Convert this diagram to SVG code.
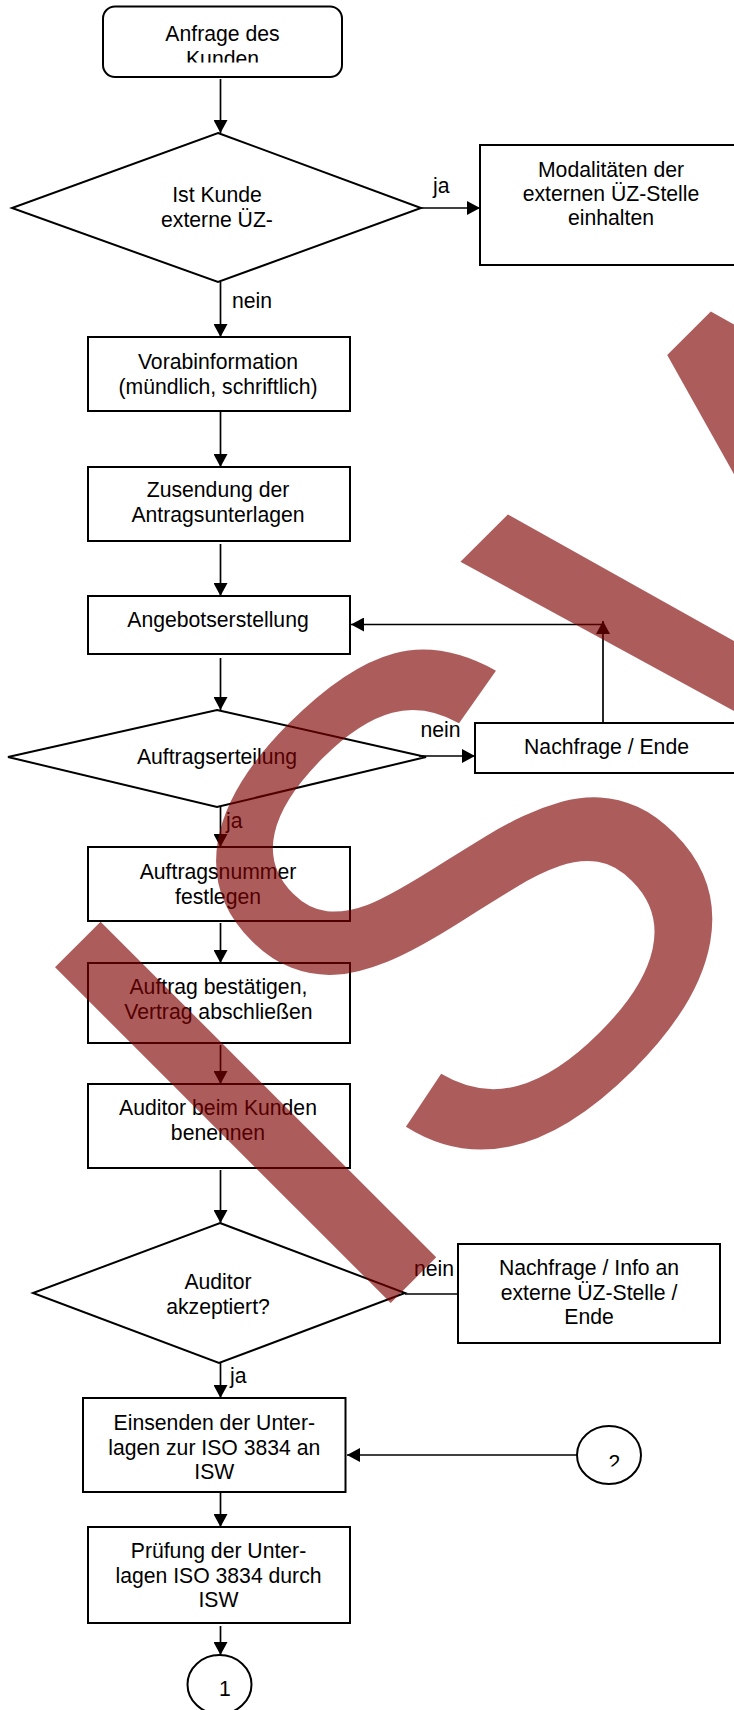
<svg xmlns="http://www.w3.org/2000/svg" width="734" height="1710" viewBox="0 0 734 1710">
<style>
.box{fill:#fff;stroke:#000;stroke-width:2}
.t{font-family:"Liberation Sans",Arial,sans-serif;font-size:21.2px;fill:#000;text-anchor:middle}
.l{font-family:"Liberation Sans",Arial,sans-serif;font-size:21.2px;fill:#000}
.c{fill:none;stroke:#000;stroke-width:1.7}
.wm{font-family:"Liberation Sans",Arial,sans-serif;font-size:690px;fill:#7f0000;fill-opacity:0.64}
</style>
<defs>
<marker id="ah" markerUnits="userSpaceOnUse" markerWidth="14" markerHeight="14" refX="13" refY="7" orient="auto">
<path d="M0,0 L13,7 L0,14 z" fill="#000"/>
</marker>
<clipPath id="clipStart"><rect x="100" y="0" width="250" height="62.5"/></clipPath>
<clipPath id="clipC2"><rect x="570" y="1420" width="80" height="46.5"/></clipPath>
</defs>
<rect width="734" height="1710" fill="#fff"/>

<g id="start">
<rect class="box" x="103" y="6.5" width="239" height="70.5" rx="12"/>
<g clip-path="url(#clipStart)">
<text class="t" x="222.5" y="40.7">Anfrage des</text>
<text class="t" x="222.5" y="65.7">Kunden</text>
</g>
</g>

<g id="d1">
<polygon class="box" points="218,133 421,208 218,282 12,208"/>
<text class="t" x="217" y="202.3">Ist Kunde</text>
<text class="t" x="217" y="227">externe ÜZ-</text>
</g>

<g id="modal">
<rect class="box" x="480" y="145" width="262" height="120"/>
<text class="t" x="611" y="177">Modalitäten der</text>
<text class="t" x="611" y="201">externen ÜZ-Stelle</text>
<text class="t" x="611" y="225">einhalten</text>
</g>

<g id="vorab">
<rect class="box" x="88" y="337" width="262" height="74"/>
<text class="t" x="218" y="369.3">Vorabinformation</text>
<text class="t" x="218" y="393.8">(mündlich, schriftlich)</text>
</g>

<g id="zusendung">
<rect class="box" x="88" y="467" width="262" height="74"/>
<text class="t" x="218" y="497.3">Zusendung der</text>
<text class="t" x="218" y="522">Antragsunterlagen</text>
</g>

<g id="angebot">
<rect class="box" x="88" y="596" width="262" height="58"/>
<text class="t" x="218" y="627">Angebotserstellung</text>
</g>

<g id="d2">
<polygon class="box" points="217,710 426,757 217,807 8,757"/>
<text class="t" x="217" y="764">Auftragserteilung</text>
</g>

<g id="nachfrage1">
<rect class="box" x="475" y="723" width="262" height="50"/>
<text class="t" x="606.5" y="754">Nachfrage / Ende</text>
</g>

<g id="auftragsnummer">
<rect class="box" x="88" y="847" width="262" height="74"/>
<text class="t" x="218" y="879">Auftragsnummer</text>
<text class="t" x="218" y="903.5">festlegen</text>
</g>

<g id="bestaetigen">
<rect class="box" x="88" y="963" width="262" height="80"/>
<text class="t" x="218.4" y="994">Auftrag bestätigen,</text>
<text class="t" x="218.4" y="1018.5">Vertrag abschließen</text>
</g>

<g id="auditor">
<rect class="box" x="88" y="1084" width="262" height="84"/>
<text class="t" x="218" y="1115">Auditor beim Kunden</text>
<text class="t" x="218" y="1139.5">benennen</text>
</g>

<g id="d3">
<polygon class="box" points="220,1223 405,1293 219,1363 33,1293"/>
<text class="t" x="218" y="1289.3">Auditor</text>
<text class="t" x="218" y="1313.8">akzeptiert?</text>
</g>

<g id="nachfrage2">
<rect class="box" x="458" y="1244" width="262" height="99"/>
<text class="t" x="589" y="1275">Nachfrage / Info an</text>
<text class="t" x="589" y="1299.5">externe ÜZ-Stelle /</text>
<text class="t" x="589" y="1324">Ende</text>
</g>

<g id="einsenden">
<rect class="box" x="83" y="1398" width="262.5" height="94"/>
<text class="t" x="214.3" y="1430">Einsenden der Unter-</text>
<text class="t" x="214.3" y="1454.5">lagen zur ISO 3834 an</text>
<text class="t" x="214.3" y="1479">ISW</text>
</g>

<g id="pruefung">
<rect class="box" x="88" y="1527" width="262" height="96"/>
<text class="t" x="218.5" y="1558.3">Prüfung der Unter-</text>
<text class="t" x="218.5" y="1582.8">lagen ISO 3834 durch</text>
<text class="t" x="218.5" y="1607.3">ISW</text>
</g>

<g id="conn2">
<ellipse class="box" cx="609" cy="1455" rx="32" ry="29"/>
<g clip-path="url(#clipC2)">
<text class="t" x="614.5" y="1469.5">2</text>
</g>
</g>

<g id="conn1">
<ellipse class="box" cx="219.5" cy="1684.5" rx="32" ry="29.5"/>
<text class="t" x="225" y="1696">1</text>
</g>

<g id="connectors">
<path class="c" d="M220.5,79 V133" marker-end="url(#ah)"/>
<path class="c" d="M421,208 H480" marker-end="url(#ah)"/>
<path class="c" d="M220.5,282 V337" marker-end="url(#ah)"/>
<path class="c" d="M220.5,411 V467" marker-end="url(#ah)"/>
<path class="c" d="M220.5,544 V596" marker-end="url(#ah)"/>
<path class="c" d="M220.5,658 V710" marker-end="url(#ah)"/>
<path class="c" d="M419,756 H475" marker-end="url(#ah)"/>
<path class="c" d="M603,723 V621" marker-end="url(#ah)"/>
<path class="c" d="M603,624.5 H351" marker-end="url(#ah)"/>
<path class="c" d="M220.5,807 V847" marker-end="url(#ah)"/>
<path class="c" d="M220.5,923 V963" marker-end="url(#ah)"/>
<path class="c" d="M220.5,1045 V1084" marker-end="url(#ah)"/>
<path class="c" d="M220.5,1170 V1223" marker-end="url(#ah)"/>
<path class="c" d="M405,1294 H458"/>
<path class="c" d="M220.5,1363 V1398" marker-end="url(#ah)"/>
<path class="c" d="M577,1455 H347" marker-end="url(#ah)"/>
<path class="c" d="M220.5,1492 V1527" marker-end="url(#ah)"/>
<path class="c" d="M220.5,1626 V1655" marker-end="url(#ah)"/>
<text class="l" x="433" y="192.5">ja</text>
<text class="l" x="232" y="308.3">nein</text>
<text class="l" x="420.5" y="736.5">nein</text>
<text class="l" x="226" y="828">ja</text>
<text class="l" x="414" y="1276">nein</text>
<text class="l" x="230" y="1383">ja</text>
</g>

<text id="watermark" class="wm" x="345.7" y="1347.9" transform="rotate(-45 345.7 1347.9)">I<tspan dx="-24">S</tspan><tspan dx="6">W</tspan></text>
</svg>
